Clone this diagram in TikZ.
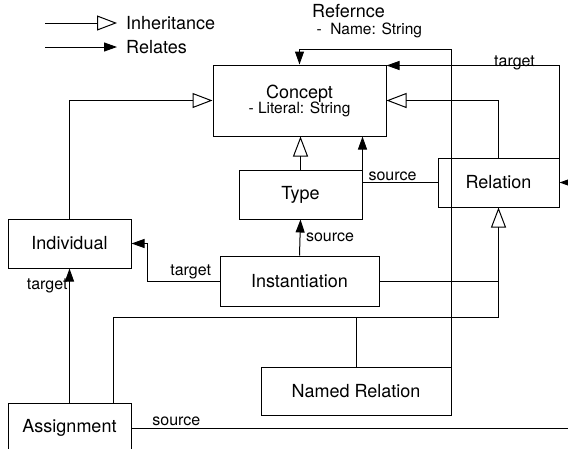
\documentclass[tikz,border=0pt]{standalone}
\usepackage{fontspec}
\setmainfont{TeX Gyre Heros}
\usetikzlibrary{arrows.meta}

\tikzset{
  box/.style={draw, line width=1pt, inner sep=0pt, font=\fontsize{18}{20}\selectfont},
  inherit/.style={line width=1pt, -{Triangle[open, length=20pt, width=15pt]}},
  relates/.style={line width=1pt, -{Triangle[length=13pt, width=9pt]}},
  lbl/.style={font=\fontsize{16}{17}\selectfont, inner sep=1.5pt}
}

\begin{document}
\begin{tikzpicture}[x=1pt, y=-1pt]
    \useasboundingbox (0,0) rectangle (568,448);

    % legend
    \coordinate (inh) at (45,23);
    \coordinate (rel) at (45,47);
    \draw[inherit] (inh) -- ++(72,0) coordinate (inhend);
    \draw[relates] (rel) -- ++(72,0) coordinate (relend);
    \node[anchor=west, font=\fontsize{18}{20}\selectfont, inner sep=0pt] (inhtext) at ([xshift=9pt]inhend) {Inheritance};
    \node[anchor=west, font=\fontsize{18}{20}\selectfont, inner sep=0pt] (reltext) at ([xshift=9pt]relend) {Relates};

    % classes
    \node[box, minimum width=173pt, minimum height=71pt, align=center] (concept) at (299.5,100.5)
        {Concept\\[-5pt]{\fontsize{15.5}{16}\selectfont - Literal: String}};
    \node[box, minimum width=123pt, minimum height=49pt] (type) at (300.5,194.5) {Type};
    \node[box, minimum width=121pt, minimum height=49pt] (relation) at (498.5,182.5) {Relation};
    \node[box, minimum width=123pt, minimum height=49pt] (individual) at (69.5,243.5) {Individual};
    \node[box, minimum width=159pt, minimum height=50pt] (inst) at (299.5,281) {Instantiation};
    \node[box, minimum width=190pt, minimum height=48pt] (named) at (356,391) {Named Relation};
    \node[box, minimum width=123pt, minimum height=50pt] (assign) at (69.5,428) {Assignment};

    % inheritance
    \draw[inherit] (individual.north) |- (concept.west);
    \draw[inherit] (type.north) -- (type.north |- concept.south);
    \draw[inherit] (relation.north) |- (concept.east);
    \coordinate (bus) at (498.5,317.5);
    \draw[inherit] ([xshift=-18pt]assign.north east) |- (bus) -- (relation.south);
    \draw[line width=1pt] (named.north) -- (named.north |- bus);
    \draw[line width=1pt] (inst.east) -- (inst.east -| bus);

    % relations
    \draw[relates] (relation.west) -- node[lbl, above, pos=0.6] {source}
        (relation.west -| type.east) -- (type.east |- concept.south);
    \draw[relates] (relation.north east) |- ([yshift=-1pt]concept.north east)
        node[lbl, above, pos=0.63, yshift=-6pt] {target};
    \coordinate (ref) at (299.5,49);
    \draw[relates] (named.north east) |- (ref) -- (concept.north);
    \node[anchor=north west, align=left, inner sep=0pt, font=\fontsize{18}{18}\selectfont] (refname) at (312,4)
        {Refernce\\[-1pt]{\fontsize{15.5}{16}\selectfont\ -\ \ Name: String}};
    \draw[relates] (inst.north) -- (type.south)
        node[lbl, right, midway, xshift=4pt] {source};
    \draw[relates] (inst.west) -- node[lbl, above, pos=0.4] {target}
        ++(-72,0) |- (individual.east);
    \draw[relates] (assign.north) -- (individual.south)
        node[lbl, left, pos=0.87] {target};
    \coordinate (edge) at (580,0);
    \draw[relates] (assign.east) -- node[lbl, above, pos=0.1] {source}
        (assign.east -| edge) -- (edge |- relation.east) -- (relation.east);

\end{tikzpicture}
\end{document}
